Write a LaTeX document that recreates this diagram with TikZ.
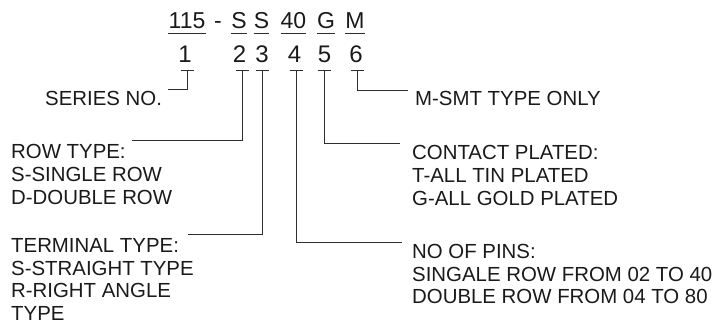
\documentclass[tikz,border=0pt]{standalone}
\usepackage{fontspec}
\setmainfont{Liberation Sans}
\definecolor{txt}{HTML}{1A1A1A}
\definecolor{ln}{HTML}{2E2E2E}
\begin{document}
\begin{tikzpicture}[x=1pt,y=-1pt,
  lbl/.style={inner sep=0pt, font=\fontsize{20.4}{22.6}\selectfont, text=txt, align=left},
  code/.style={inner sep=0pt, font=\fontsize{23}{26}\selectfont, anchor=base, text=txt},
  num/.style={inner sep=0pt, font=\fontsize{24}{28}\selectfont, anchor=base, text=txt},
  lead/.style={draw=ln, line width=0.9pt},
  uline/.style={draw=ln, line width=0.7pt}]
\useasboundingbox (0,0) rectangle (718,324);
% code line
\node[code] (c1) at (187,28) {115};
\node[code] (cd) at (218,28) {-};
\node[code] (c2) at (239,28) {S};
\node[code] (c3) at (261.5,28) {S};
\node[code] (c4) at (293.5,28) {40};
\node[code] (c5) at (326,28) {G};
\node[code] (c6) at (355,28) {M};
\foreach \n in {c1,c2,c3,c4,c5,c6}
  \draw[uline] ([yshift=-5pt]\n.base west) -- ([yshift=-5pt]\n.base east);
% digits
\node[num] (d1) at (185,62) {1};
\node[num] (d2) at (239.5,62) {2};
\node[num] (d3) at (262,62) {3};
\node[num] (d4) at (294.5,62) {4};
\node[num] (d5) at (324.5,62) {5};
\node[num] (d6) at (356,62) {6};
% bar tops
\coordinate (t1) at (187,70);
\coordinate (t2) at (242,70);
\coordinate (t3) at (262,70);
\coordinate (t4) at (296,70);
\coordinate (t5) at (324,70);
\coordinate (t6) at (357,70);
\foreach \t in {t1,t2,t3,t4,t5,t6}
  \draw[lead] ([xshift=-6.5pt]\t) -- ([xshift=6.5pt]\t);
% labels
\node[lbl, anchor=base west] (series) at (45,105) {SERIES NO.};
\node[lbl, anchor=north west] (row) at (11,144.5) {ROW TYPE:\\S-SINGLE ROW\\D-DOUBLE ROW};
\node[lbl, anchor=north west] (term) at (11,238.5) {TERMINAL TYPE:\\S-STRAIGHT TYPE\\R-RIGHT ANGLE\\TYPE};
\node[lbl, anchor=base west] (smt) at (415,105) {M-SMT TYPE ONLY};
\node[lbl, anchor=north west] (plate) at (412,145.5) {CONTACT PLATED:\\T-ALL TIN PLATED\\G-ALL GOLD PLATED};
\node[lbl, anchor=north west] (pins) at (412,244) {NO OF PINS:\\SINGALE ROW FROM 02 TO 40\\DOUBLE ROW FROM 04 TO 80};
% leader ends
\coordinate (e1) at (168,89);
\coordinate (e2) at (132,140);
\coordinate (e3) at (188,234);
\coordinate (e4) at (402,242);
\coordinate (e5) at (400,143);
\coordinate (e6) at (408,90);
\draw[lead] (t1) |- (e1);
\draw[lead] (t2) |- (e2);
\draw[lead] (t3) |- (e3);
\draw[lead] (t4) |- (e4);
\draw[lead] (t5) |- (e5);
\draw[lead] (t6) |- (e6);
\end{tikzpicture}
\end{document}
